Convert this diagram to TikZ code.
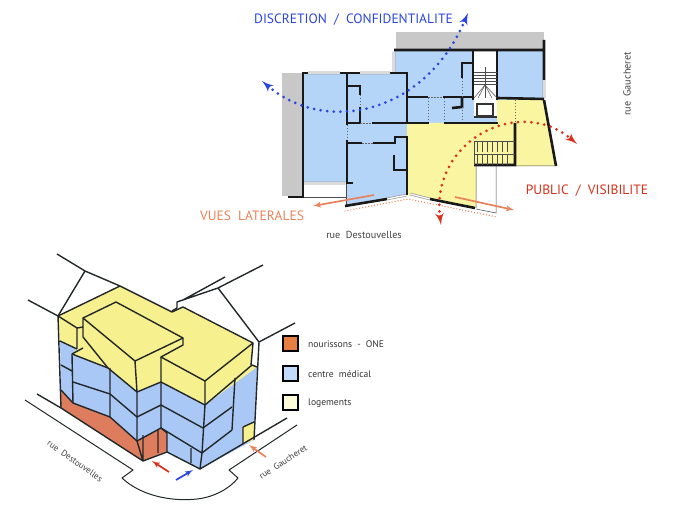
\documentclass[tikz,border=0pt]{standalone}
\usepackage{fontspec}
\setmainfont{PT Sans}
\usetikzlibrary{arrows}
\definecolor{planblue}{HTML}{B5D5F8}
\definecolor{planyellow}{HTML}{FAF5A0}
\definecolor{isoblue}{HTML}{AAC8F5}
\definecolor{isoyellow}{HTML}{F7F08E}
\definecolor{isoorange}{HTML}{DD7D5E}
\definecolor{wallgrey}{HTML}{C8C8C8}
\definecolor{darkline}{HTML}{22282A}
\definecolor{labelblue}{HTML}{2A45E0}
\definecolor{labelred}{HTML}{D8301A}
\definecolor{labelorange}{HTML}{E8825A}
\tikzset{
    wall/.style={line width=2.6pt, draw=black!90},
    partition/.style={line width=0.9pt, draw=black!60, dash pattern=on 1.5pt off 1.5pt},
    thinline/.style={line width=0.5pt, draw=black!70},
    window/.style={line width=2.6pt, draw=black!40},
    windowin/.style={line width=1.2pt, draw=white},
    iso/.style={line width=1.4pt, draw=darkline, line join=round},
    dotblue/.style={<->,> = latex', line width=3pt, draw=labelblue, line cap=round, dash pattern=on 0pt off 6.6pt},
    dotred/.style={<->,> = latex', line width=3pt, draw=labelred, line cap=round, dash pattern=on 0pt off 6.6pt},
    dotorange/.style={line width=1.4pt, draw=labelorange, line cap=round, dash pattern=on 0pt off 3pt},
    viewarrow/.style={->,> = latex', line width=1.7pt},
    biglabel/.style={font=\fontsize{13.5}{16}\selectfont, inner sep=0pt},
    streetlabel/.style={font=\fontsize{10.2}{11}\selectfont, text=black!75, inner sep=0pt},
    isostreet/.style={font=\fontsize{8.8}{10}\selectfont, text=black!75, inner sep=0pt},
    legendbox/.style={draw=black, line width=2pt, minimum size=15pt, inner sep=0pt},
    legendlabel/.style={font=\fontsize{9.6}{11}\selectfont, text=black!80, inner sep=0pt, anchor=west},
}

\begin{document}
\begin{tikzpicture}[x=1pt,y=-1pt]
    \useasboundingbox (0,0) rectangle (680,510);
    % plan
    \fill[wallgrey] (282,73) rectangle (303,196);
    \fill[wallgrey] (396,32) rectangle (544,50);
    \fill[planblue] (303,73) -- (394,73) -- (394,50) -- (544,50) -- (544,100) -- (497,100) -- (497,123)
        -- (407,123) -- (407,195) -- (346,206) -- (346,183) -- (303,183) -- cycle;
    \fill[planyellow] (407,123) -- (497,123) -- (497,100) -- (544,100) -- (556,166) -- (476,166)
        -- (476,208) -- (407,195) -- cycle;
    \fill[white] (474,50) rectangle (497,100);
    \fill[white] (474,100) rectangle (497,117);
    \draw[window] (308,73) -- (340,73) (360,73) -- (390,73) (303,183) -- (346,183) (394,52) -- (394,72)
        (544,80) -- (544,98) (387,199) -- (407,195) (410,194) -- (430,199);
    \draw[windowin] (308,73) -- (340,73) (360,73) -- (390,73) (303,183) -- (346,183) (394,52) -- (394,72)
        (544,80) -- (544,98) (387,199) -- (407,195) (410,194) -- (430,199);
    \draw[thinline] (303,197) -- (346,197) (346,183) -- (346,206);
    \draw[wall] (288,197) -- (303,197) -- (303,73) -- (308,73) (340,73) -- (360,73) (390,73) -- (407,73) -- (407,123);
    \draw[wall] (347,74) -- (347,125) (347,140) -- (347,183) -- (353,183);
    \draw[wall] (348,86) -- (360,86) -- (360,95) (360,107) -- (360,123) (348,123) -- (360,123) (372,123) -- (429,123);
    \draw[wall] (408,97) -- (428,97) (443,97) -- (473,97) (444,123) -- (498,123);
    \draw[wall] (348,143) -- (362,143) (373,143) -- (395,143) -- (395,137) -- (407,137) -- (407,195);
    \draw[wall] (394,155) -- (394,170) -- (407,170);
    \draw[wall] (394,50) -- (545,50) (544,40) -- (544,80) (544,100) -- (556,166);
    \draw[wall] (473,50) -- (473,100) (497,50) -- (497,100) (462,78) -- (462,63) -- (473,63);
    \draw[wall] (462,97) -- (462,107) -- (452,108) (497,98) -- (544,99) (515,123) -- (515,165) -- (474,165);
    \draw[wall] (345,206) -- (387,199) (430,199) -- (475,208);
    \draw[partition] (347,125) -- (347,140) (360,95) -- (360,107) (360,123) -- (372,123) (362,143) -- (373,143);
    \draw[partition] (428,97) -- (443,97) (428,98) -- (428,122) (444,98) -- (444,122) (462,78) -- (462,97)
        (462,107) -- (462,122) (515,100) -- (515,123);
    \draw[line width=1.6pt, draw=black!80] (477,104) rectangle (493,116);
    \draw[line width=1.6pt, draw=black!80] (474,117) -- (497,117);
    % stairs
    \foreach \y in {72,75,78,81,84} \draw[thinline] (474,\y) -- (497,\y);
    \foreach \x in {474,478,485,492,497} \draw[thinline] (485,85) -- (\x,98);
    \draw[thinline] (485,67) -- (485,85);
    \foreach \x in {477,482,487,492,497,502,507} \draw[thinline] (\x,141) -- (\x,152) (\x,155) -- (\x,165);
    \draw[thinline] (474,141) -- (515,141) (474,154) -- (515,154) (474,141) -- (474,165);
    \draw[thinline] (476,166) -- (476,208) (496,166) -- (496,213) -- (476,209) (515,166) -- (556,166);
    \draw[dotorange] (345,211) -- (408,199) -- (497,217);
    \draw[viewarrow, draw=labelorange] (374,195) -- (313,206);
    \draw[viewarrow, draw=labelorange] (455,197) -- (514,210);
    \draw[dotblue] (262,81) .. controls (325,135) and (425,115) .. (468,13);
    \draw[dotred] (441,225) .. controls (430,140) and (520,95) .. (577,144);
    \node[biglabel, text=labelblue] (discretion) at (353.5,20) {DISCRETION~~/~~CONFIDENTIALITE};
    \node[biglabel, text=labelred] (public) at (587,191) {PUBLIC~~/~~VISIBILITE};
    \node[biglabel, text=labelorange] (vues) at (252,216) {VUES~~LATERALES};
    \node[streetlabel] (destouvelles) at (364,235) {rue~~Destouvelles};
    \node[streetlabel, rotate=90] (gaucheret) at (627,84) {rue~~Gaucheret};
    % axonometric view
    \fill[isoblue] (60,341) -- (257,367) -- (254,440) -- (200,469) -- (167,452) -- (167,432) -- (162,428)
        -- (137,441) -- (110,417) -- (73,403) -- (61,390) -- cycle;
    \fill[isoorange] (61,390) -- (73,403) -- (110,417) -- (137,441) -- (162,428) -- (167,432) -- (167,451)
        -- (143,461) -- (61,408) -- cycle;
    \fill[isoyellow] (58,316) -- (120,286) -- (172,312) -- (183,307) -- (253,343) -- (251,365) -- (257,367) -- (205,405)
        -- (161,382) -- (137,392) -- (108,368) -- (72,354) -- (77,349) -- (60,341) -- cycle;
    \fill[isoyellow] (243,427) -- (254,422) -- (254,440) -- (243,444) -- cycle;
    \draw[iso] (28,300) -- (58,316) -- (120,286) -- (172,312) -- (183,307) -- (253,343) -- (251,365);
    \draw[iso] (57,254) -- (85,271) -- (120,286) (85,271) -- (58,316);
    \draw[iso] (172,311) -- (177,308) -- (177,302) -- (218,288) -- (263,265) (183,300) -- (225,277);
    \draw[iso] (218,288) -- (259,342) -- (295,323) (259,342) -- (254,440);
    \draw[iso] (83,318) -- (116,302) -- (183,338) -- (183,345) -- (161,357) -- (205,381) -- (253,343);
    \draw[iso] (183,338) -- (135,361) -- (83,318) -- (83,337) -- (108,368);
    \draw[iso] (135,361) -- (137,392) -- (137,441) (205,381) -- (205,405) -- (202,453) -- (200,469);
    \draw[iso] (58,316) -- (61,408) (58,316) -- (77,328) -- (83,327) (77,328) -- (77,349) (60,341) -- (77,349) (72,354) -- (83,348);
    \draw[iso] (72,354) -- (108,368) -- (137,392) -- (161,382) -- (205,405) -- (252,365) -- (257,367) (235,378) -- (232,430);
    \draw[iso] (61,365) -- (72,371) (72,354) -- (73,403) -- (110,417) -- (137,441) (73,382) -- (110,394) -- (137,417) -- (161,405) -- (203,428) -- (232,407);
    \draw[iso] (110,368) -- (110,417) (161,357) -- (161,428) -- (202,453) -- (232,430);
    \draw[iso] (61,390) -- (73,403) (137,441) -- (161,428) -- (167,433) -- (167,452) -- (200,469) -- (287,418);
    \draw[iso] (143,435) -- (143,461) -- (167,452) (158,430) -- (158,453) (137,441) -- (143,461) -- (61,408) -- (37,394);
    \draw[iso] (191,448) -- (191,463) (243,427) -- (254,422) (243,427) -- (243,444);
    \draw[iso, line width=1pt] (25,400) -- (133,470) -- (122,478) .. controls (140,495) and (170,502) .. (197,499)
        .. controls (215,497) and (230,488) .. (238,478) -- (229,470) -- (297,425);
    \draw[viewarrow, draw=labelred] (169,472) -- (152,461);
    \draw[viewarrow, draw=labelblue] (176,480) -- (193,470);
    \draw[viewarrow, draw=labelorange] (266,457) -- (249,445);
    \node[isostreet, rotate=-35] (destouvellesiso) at (75,461) {rue~~Destouvelles};
    \node[isostreet, rotate=33] (gaucheretiso) at (283,462) {rue~~Gaucheret};
    % legend
    \node[legendbox, fill=isoorange!70!orange] (boxone) at (290,343.5) {};
    \node[legendbox, fill=planblue!85!white] (boxmedical) at (290,373.5) {};
    \node[legendbox, fill=yellow!15!white] (boxlogements) at (290,402.5) {};
    \node[legendlabel] (labelone) at (308,344) {nourissons~~-~~ONE};
    \node[legendlabel] (labelmedical) at (308,374) {centre~~médical};
    \node[legendlabel] (labellogements) at (308,403) {logements};
\end{tikzpicture}
\end{document}
